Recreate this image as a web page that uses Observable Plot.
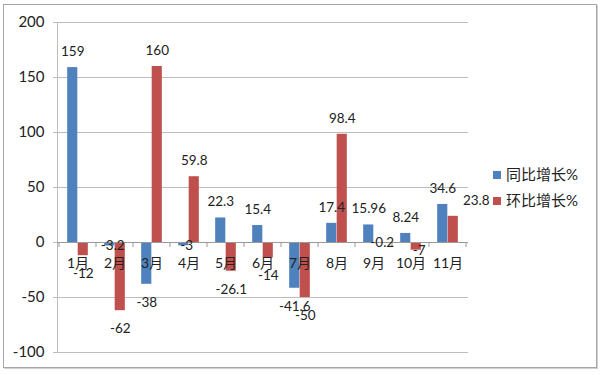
<!DOCTYPE html>
<html>
<head>
<meta charset="utf-8">
<script src="https://cdn.jsdelivr.net/npm/d3@7"></script>
<script src="https://cdn.jsdelivr.net/npm/@observablehq/plot@0.6"></script>
<style>
  html, body { margin: 0; padding: 0; background: #fff; }
  #wrap { position: relative; width: 600px; height: 375px; overflow: hidden; }
  #border { position: absolute; left: 3px; top: 4px; width: 594px; height: 364px; box-sizing: border-box;
            border: 1px solid #a6a6a6; box-shadow: 1px 1px 0 #d0d0d0; pointer-events: none; }
  #legend { position: absolute; left: 493px; top: 161px; font-family: Lato, "Noto Sans CJK SC", sans-serif;
            font-size: 15px; color: #222; line-height: 26px; }
  #legend .sw { display: inline-block; width: 8px; height: 8px; margin-right: 5px; vertical-align: middle; position: relative; top: -1px; }
</style>
</head>
<body>
<div id="wrap">
  <div id="chart"></div>
  <div id="border"></div>
  <div id="legend"></div>
</div>
<script>
const months = ["1月","2月","3月","4月","5月","6月","7月","8月","9月","10月","11月"];
const seriesNames = ["同比增长%", "环比增长%"];
const yoy = [159, -3.2, -38, -3, 22.3, 15.4, -41.6, 17.4, 15.96, 8.24, 34.6];
const mom = [-12, -62, 160, 59.8, -26.1, -14, -50, 98.4, -0.2, -7, 23.8];
const yTicks = [-100, -50, 0, 50, 100, 150, 200];
const colors = ["#4F81BD", "#C0504D"];

const rows = [];
months.forEach((m, i) => {
  rows.push({month: m, series: seriesNames[0], value: yoy[i], idx: i});
  rows.push({month: m, series: seriesNames[1], value: mom[i], idx: i});
});

const W = 600, H = 375, mL = 57, mR = 132, mT = 22, mB = 23;
const step = (W - mL - mR) / months.length;
const bw = 10.5;
const outer = (step - 2 * bw) / 2;
const font = 'Lato, "Noto Sans CJK SC", sans-serif';
const labelFmt = r => (r.value < 0 ? "-" + String(Math.abs(r.value)) : String(r.value));

function barMarks(k) {
  const d = rows.filter(r => r.series === seriesNames[k]);
  return Plot.barY(d, {
    x: "month", y: "value", fill: colors[k],
    insetLeft: k === 0 ? outer : outer + bw,
    insetRight: k === 0 ? outer + bw : outer
  });
}

function labelMarks(k) {
  const d = rows.filter(r => r.series === seriesNames[k]);
  const dx = k === 0 ? -bw / 2 : bw / 2;
  const last = months.length - 1;
  const isShifted = r => k === 1 && r.idx === last; // 11月 环比 label sits to the right
  const common = {x: "month", y: "value", text: labelFmt, fontSize: 13.5, fill: "#222"};
  return [
    Plot.text(d.filter(r => r.value >= 0 && !isShifted(r)), {...common, dx, dy: -16}),
    Plot.text(d.filter(r => isShifted(r)), {...common, dx: dx + 23, dy: -16}),
    Plot.text(d.filter(r => r.value <= -10), {...common, dx, dy: 18}),
    Plot.text(d.filter(r => r.value < 0 && r.value > -10), {...common, dx: dx + 3, dy: 0})
  ];
}

// small category-boundary ticks on the zero line
function zeroTicks(index, scales) {
  const g = d3.create("svg:g").attr("stroke", "#9a9a9a");
  const x = scales.x, y = scales.y;
  const bwid = x(months[1]) - x(months[0]);
  const y0 = y(0);
  const xs = months.map(m => x(m)).concat([x(months[months.length - 1]) + bwid]);
  xs.forEach(px => {
    g.append("line").attr("x1", px).attr("x2", px).attr("y1", y0).attr("y2", y0 + 5);
  });
  return g.node();
}

const chart = Plot.plot({
  width: W, height: H,
  marginLeft: mL, marginRight: mR, marginTop: mT, marginBottom: mB,
  style: {fontFamily: font, background: "transparent", color: "#222"},
  x: {domain: months, padding: 0, axis: null, label: null},
  y: {domain: [-100, 200], axis: null, label: null},
  marks: [
    Plot.ruleY(yTicks, {stroke: "#bdbdbd", insetLeft: -4}),
    Plot.frame({anchor: "left", stroke: "#bdbdbd"}),
    Plot.axisY({ticks: yTicks, tickSize: 0, tickPadding: 13, fontSize: 15, label: null, tickFormat: d => String(d), fill: "#222"}),
    barMarks(0),
    barMarks(1),
    Plot.ruleY([0], {stroke: "#9a9a9a"}),
    zeroTicks,
    Plot.text(months, {x: d => d, y: () => 0, text: d => d, dy: 21, fontSize: 14, fill: "#222"}),
    ...labelMarks(0),
    ...labelMarks(1)
  ]
});
document.getElementById("chart").appendChild(chart);

const legend = document.getElementById("legend");
seriesNames.forEach((s, k) => {
  const row = document.createElement("div");
  const sw = document.createElement("span");
  sw.className = "sw";
  sw.style.background = colors[k];
  row.appendChild(sw);
  row.appendChild(document.createTextNode(s));
  legend.appendChild(row);
});
</script>
</body>
</html>
